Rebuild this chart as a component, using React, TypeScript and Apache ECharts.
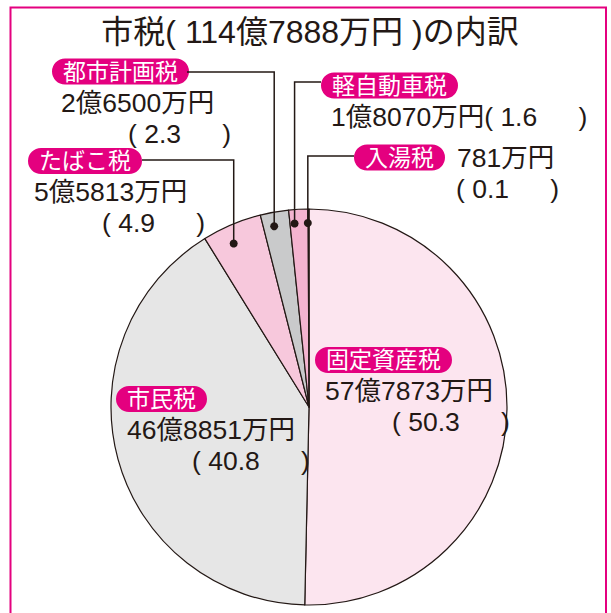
import React, { useEffect, useRef } from 'react';
import * as echarts from 'echarts';

// ---- data (万円) ----
const categories = ['固定資産税', '市民税', 'たばこ税', '都市計画税', '軽自動車税', '入湯税'];
const amounts = [577873, 468851, 55813, 26500, 18070, 781];
const sliceColors = ['#fce5ef', '#e6e6e6', '#f7c8dc', '#c9cacb', '#f4b4d0', '#b5b5b6'];

const FONT = "'Liberation Sans', 'Noto Sans CJK JP', sans-serif";
const INK = '#231815';
const MAGENTA = '#e4007f';

const CX = 309;
const CY = 407;
const R = 198;

// label layout (positions only)
const LAYOUT: any[] = [
  { x: 315, y: 344.5, v: 10, p: 77 },
  { x: 116, y: 383.5, v: 11, p: 76 },
  { x: 28, y: 145.5, v: 6, p: 74, lineY: 160, endX: 142, frac: 0.4, r: 180 },
  { x: 52, y: 56, v: 9, p: 76, lineY: 72, endX: 187, frac: 0.4, r: 184 },
  { x: 321, y: 70, v: 10, lineY: 82, endX: 321, frac: 0.25, r: 184, single: true },
  { x: 354, y: 142, v: 12, p: 102, lineY: 156, endX: 354, frac: -0.5, r: 184, inline: true },
];

function fmtYen(v: number) {
  if (v >= 10000) return `${Math.floor(v / 10000)}億${String(v % 10000).padStart(4, '0')}万円`;
  return `${v}万円`;
}

export default function App() {
  const ref = useRef<HTMLDivElement>(null);
  useEffect(() => {
    const chart = echarts.init(ref.current as HTMLDivElement, null, { renderer: 'svg' });
    const total = amounts.reduce((a, b) => a + b, 0);
    const starts: number[] = [];
    let acc = 0;
    amounts.forEach((v) => {
      starts.push(acc / total);
      acc += v;
    });
    const dotPts = amounts.map((v, i) => {
      const cfg = LAYOUT[i];
      if (cfg.frac == null) return null;
      const th = 2 * Math.PI * (starts[i] + (cfg.frac * v) / total);
      return [CX + cfg.r * Math.sin(th), CY - cfg.r * Math.cos(th)];
    });

    const richFor = (cfg: any) => ({
      b: {
        color: '#fff',
        backgroundColor: MAGENTA,
        borderRadius: 13,
        fontSize: 23,
        fontFamily: FONT,
        height: 26,
        lineHeight: 31,
        padding: [0, 11],
      },
      v: { color: INK, fontSize: 26.5, fontFamily: FONT, lineHeight: 31, padding: [0, 0, 0, cfg.v] },
      p: { color: INK, fontSize: 26.5, fontFamily: FONT, lineHeight: 31, padding: [0, 0, 0, cfg.p || 0] },
    });

    const data = amounts.map((v, i) => {
      const cfg = LAYOUT[i];
      const pct = ((v / total) * 100).toFixed(1);
      const pctText = `( ${pct}\u3000  )`;
      let formatter: string;
      if (cfg.single) formatter = `{b|${categories[i]}}\n{v|${fmtYen(v)}${pctText}}`;
      else if (cfg.inline) formatter = `{b|${categories[i]}}{v|${fmtYen(v)}}\n{p|${pctText}}`;
      else formatter = `{b|${categories[i]}}\n{v|${fmtYen(v)}}\n{p|${pctText}}`;
      return {
        value: v,
        name: categories[i],
        itemStyle: { color: sliceColors[i] },
        label: { formatter, rich: richFor(cfg) },
      };
    });

    const leaders: any[] = [];
    dotPts.forEach((p: any, i) => {
      if (!p) return;
      const cfg = LAYOUT[i];
      leaders.push({
        type: 'polyline',
        z: 100,
        silent: true,
        shape: { points: [[p[0], p[1]], [p[0], cfg.lineY], [cfg.endX, cfg.lineY]] },
        style: { stroke: INK, lineWidth: 1.5, fill: 'none' },
      });
      leaders.push({
        type: 'circle',
        z: 101,
        silent: true,
        shape: { cx: p[0], cy: p[1], r: 4 },
        style: { fill: INK },
      });
    });

    chart.setOption({
      animation: false,
      backgroundColor: '#fff',
      graphic: [
        {
          type: 'text',
          silent: true,
          x: 310,
          y: 32,
          style: {
            text: `市税( ${fmtYen(total)} )の内訳`,
            fontSize: 32,
            fontFamily: FONT,
            fill: INK,
            textAlign: 'center',
            textVerticalAlign: 'middle',
          },
        },
        {
          type: 'rect',
          silent: true,
          z: 100,
          shape: { x: 10.5, y: 7.5, width: 595.5, height: 640 },
          style: { fill: 'none', stroke: MAGENTA, lineWidth: 2 },
        },
        ...leaders,
      ],
      series: [
        {
          type: 'pie',
          radius: R,
          center: [CX, CY],
          startAngle: 90,
          clockwise: true,
          avoidLabelOverlap: false,
          silent: true,
          emphasis: { disabled: true },
          itemStyle: { borderColor: INK, borderWidth: 1.2 },
          label: { show: true, position: 'outside' },
          labelLine: { show: false },
          labelLayout: (params: any) => {
            const cfg = LAYOUT[params.dataIndex];
            return { x: cfg.x, y: cfg.y, align: 'left', verticalAlign: 'top' };
          },
          data,
        },
      ],
    });
    return () => chart.dispose();
  }, []);
  return (
    <div
      ref={ref}
      style={{ position: 'absolute', left: 0, top: 0, width: 611, height: 613, background: '#fff' }}
    />
  );
}
